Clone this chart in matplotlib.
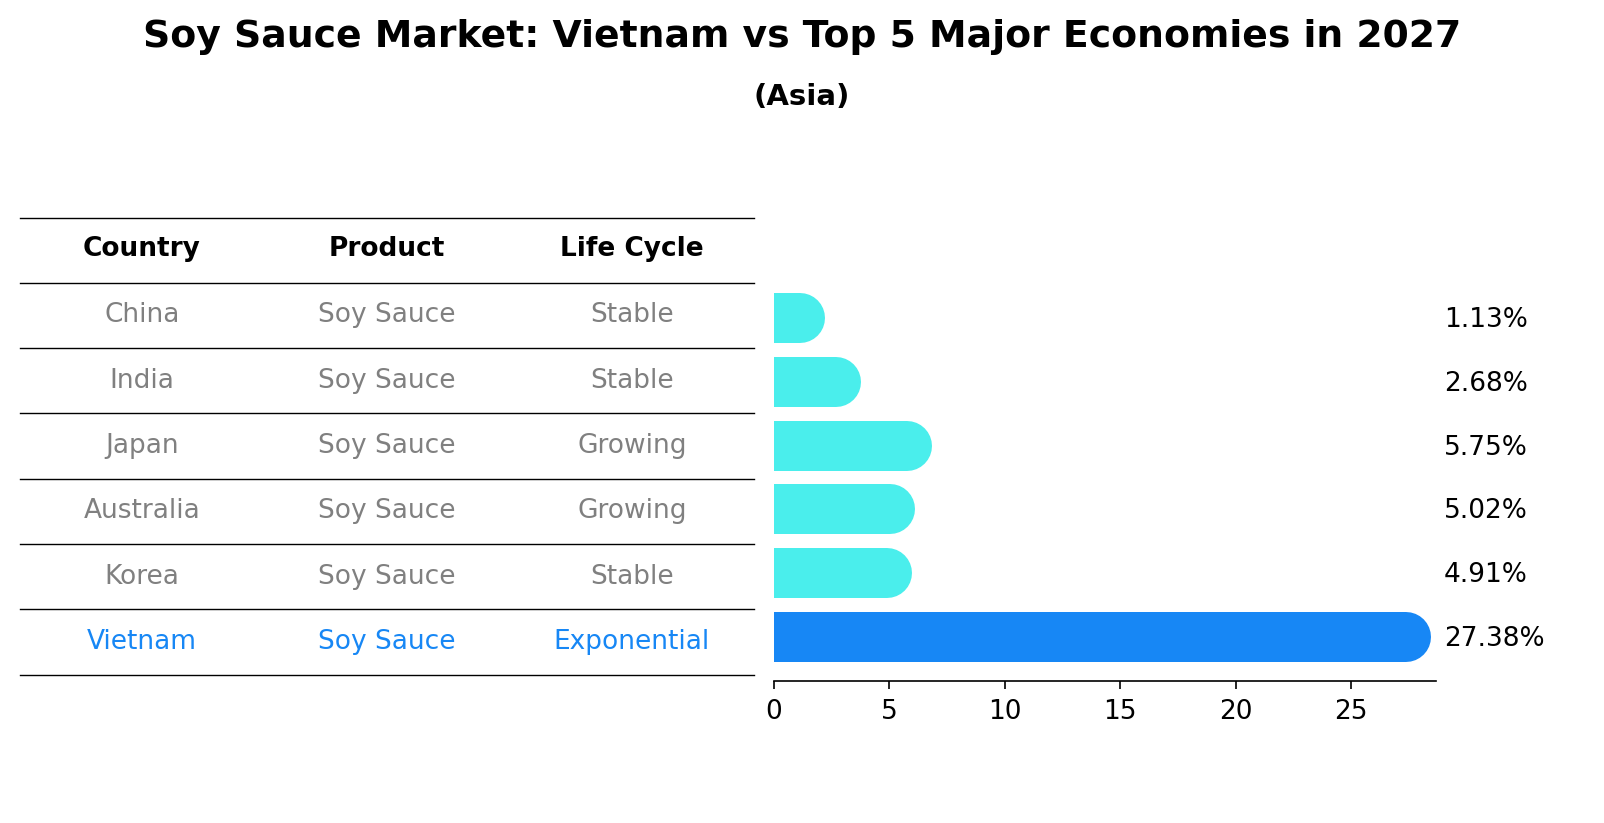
import matplotlib.pyplot as plt
from matplotlib.lines import Line2D

countries = ["China", "India", "Japan", "Australia", "Korea", "Vietnam"]
products = ["Soy Sauce"] * 6
life_cycle = ["Stable", "Stable", "Growing", "Growing", "Stable", "Exponential"]
growth = [1.13, 2.68, 5.75, 5.02, 4.91, 27.38]

W, H = 1604, 823
CYAN, BLUE, GREY = "#4aeeec", "#1787f5", "#808080"

fig = plt.figure(figsize=(W / 200, H / 200), dpi=200)


def fx(px):
    return px / W


def fy(py):
    return 1 - py / H


fig.text(0.5, fy(37), "Soy Sauce Market: Vietnam vs Top 5 Major Economies in 2027",
         ha="center", va="center", fontsize=13.6, fontweight="bold")
fig.text(0.5, fy(97), "(Asia)", ha="center", va="center", fontsize=10.5, fontweight="bold")

# table on the left
line_y = [218, 283, 348, 413, 479, 544, 609, 675]
for py in line_y:
    fig.add_artist(Line2D([fx(20), fx(754)], [fy(py), fy(py)], color="black",
                          lw=0.5, transform=fig.transFigure))
col_x = [142, 387, 632]
for cx, head in zip(col_x, ["Country", "Product", "Life Cycle"]):
    fig.text(fx(cx), fy(249), head, ha="center", va="center", fontsize=9.5, fontweight="bold")
for i, row in enumerate(zip(countries, products, life_cycle)):
    cy = (line_y[i + 1] + line_y[i + 2]) / 2
    color = BLUE if row[0] == "Vietnam" else GREY
    for cx, txt in zip(col_x, row):
        fig.text(fx(cx), fy(cy), txt, ha="center", va="center", fontsize=9.5, color=color)

# rounded bars on the right
ax = fig.add_axes([fx(774), fy(681), fx(1436) - fx(774), fy(290) - fy(681)])
n = len(countries)
for i, (c, v) in enumerate(zip(countries, growth)):
    y = n - 1 - i
    color = BLUE if c == "Vietnam" else CYAN
    ax.plot([-2, v], [y, y], color=color, lw=18, solid_capstyle="round")
    ax.text(1.012, y - 0.03, f"{v:.2f}%", transform=ax.get_yaxis_transform(),
            ha="left", va="center", fontsize=9.5)

ax.set_xlim(0, 28.68)
ax.set_ylim(-0.69, 5.44)
ax.set_yticks([])
ax.set_xticks([0, 5, 10, 15, 20, 25])
ax.tick_params(axis="x", labelsize=9.5, width=0.6, length=3)
for s in ["top", "right", "left"]:
    ax.spines[s].set_visible(False)
ax.spines["bottom"].set_linewidth(0.6)

fig.savefig("out.png", dpi=200)
